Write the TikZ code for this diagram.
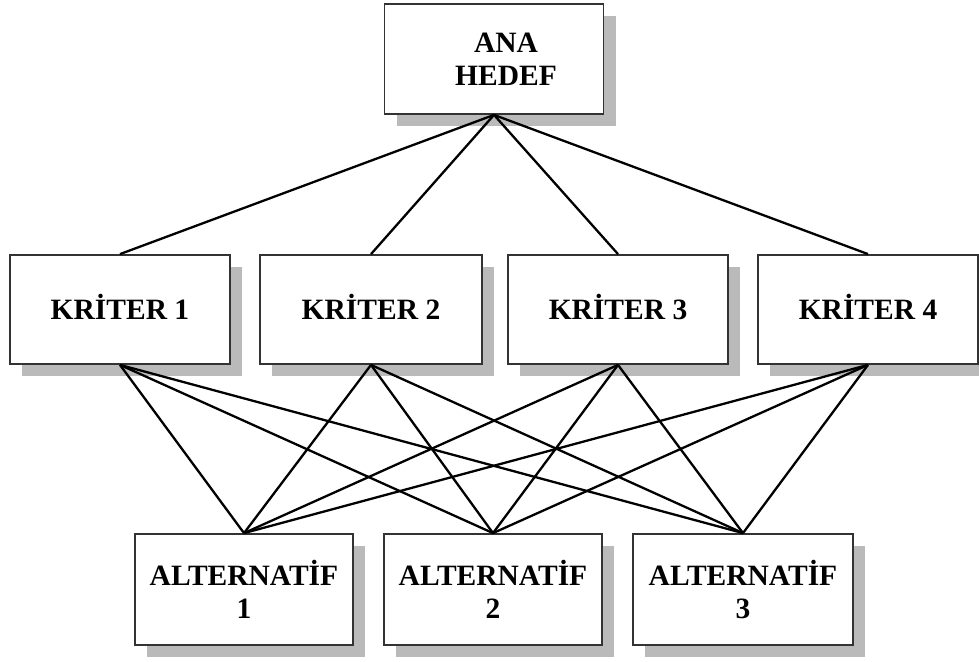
\documentclass[tikz,border=0pt]{standalone}
\usepackage{fontspec}
\setmainfont{Liberation Serif}
\usetikzlibrary{shadows}
\begin{document}
\begin{tikzpicture}[x=1pt,y=-1pt,
  box/.style={draw=black!80, line width=1.8pt, fill=white, rectangle,
    minimum width=219pt, minimum height=110pt, inner sep=0pt, align=center,
    font=\fontsize{29.5}{33}\selectfont\bfseries,
    drop shadow={shadow xshift=12pt, shadow yshift=-12pt, fill=black!27, opacity=1}},
  kbox/.style={box, minimum width=220pt, minimum height=109pt, text height=20pt, text depth=1pt},
  abox/.style={box, minimum width=218pt, minimum height=111pt},
  link/.style={line width=2.3pt, black}]
\useasboundingbox (0,0) rectangle (979,661);
\fill[white] (0,0) rectangle (979,661);
% boxes
\node[box] (ana) at (494,59) {\hspace*{24pt}ANA\\\hspace*{24pt}HEDEF};
\node[kbox] (k1) at (120,309.5) {KRİTER 1};
\node[kbox, minimum width=222pt] (k2) at (371,309.5) {KRİTER 2};
\node[kbox] (k3) at (618,309.5) {KRİTER 3};
\node[kbox] (k4) at (868,309.5) {KRİTER 4};
\node[abox] (a1) at (244,589.5) {ALTERNATİF\\1};
\node[abox] (a2) at (493,589.5) {ALTERNATİF\\2};
\node[abox, minimum width=220pt] (a3) at (743,589.5) {ALTERNATİF\\3};
% links
\foreach \k in {k1,k2,k3,k4} {\draw[link] (ana.south) -- (\k.north);}
\foreach \k in {k1,k2,k3,k4} {
  \foreach \a in {a1,a2,a3} {\draw[link] (\k.south) -- (\a.north);}}
\end{tikzpicture}
\end{document}
